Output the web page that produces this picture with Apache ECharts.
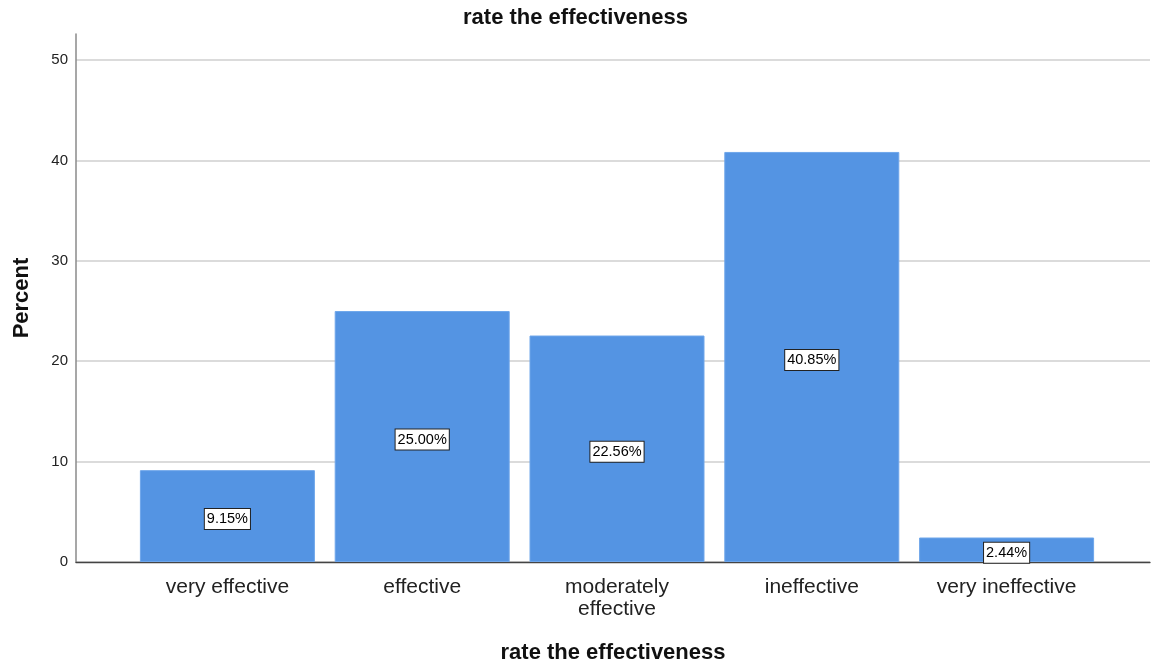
<!DOCTYPE html>
<html>
<head>
<meta charset="utf-8">
<script src="https://cdn.jsdelivr.net/npm/echarts@6/dist/echarts.min.js"></script>
<style>
  html, body { margin: 0; padding: 0; background: #fff; }
  #chart { width: 1151px; height: 664px; }
</style>
</head>
<body>
<div id="chart"></div>
<script>
// Response categories and percentages
const categories = ['very effective', 'effective', 'moderately\neffective', 'ineffective', 'very ineffective'];
const percents = [9.15, 25.00, 22.56, 40.85, 2.44];
const yTicks = [0, 10, 20, 30, 40, 50];

const Y_MAX = 52.6;
const FONT = 'Liberation Sans, Arial, sans-serif';
const BAR = '#5494e3';

const chart = echarts.init(document.getElementById('chart'), null, { renderer: 'canvas' });

chart.setOption({
  backgroundColor: '#ffffff',
  animation: false,
  title: {
    text: 'rate the effectiveness',
    left: 'center',
    top: 2,
    textStyle: { fontFamily: FONT, fontSize: 22, fontWeight: 'bold', color: '#111' }
  },
  grid: [
    // frame: axes and gridlines
    { left: 76, right: 1, top: 34, bottom: 102, outerBoundsMode: 'none', containLabel: false },
    // bars
    { left: 130, width: 974, top: 34, bottom: 102, outerBoundsMode: 'none', containLabel: false }
  ],
  xAxis: [
    {
      gridIndex: 0, type: 'value', min: 0, max: 1,
      name: 'rate the effectiveness', nameLocation: 'middle', nameGap: 80,
      nameTextStyle: { fontFamily: FONT, fontSize: 22, fontWeight: 'bold', color: '#111' },
      axisLine: { show: true, lineStyle: { color: '#444', width: 1.3 } },
      axisTick: { show: false }, axisLabel: { show: false }, splitLine: { show: false }
    },
    {
      gridIndex: 1, type: 'category', data: categories,
      axisLine: { show: false }, axisTick: { show: false },
      axisLabel: {
        margin: 14, fontFamily: FONT, fontSize: 21, color: '#222', lineHeight: 22,
        interval: 0
      }
    }
  ],
  yAxis: [
    {
      gridIndex: 0, type: 'value', min: 0, max: Y_MAX, interval: 10,
      name: 'Percent', nameLocation: 'middle', nameGap: 43,
      nameTextStyle: { fontFamily: FONT, fontSize: 22, fontWeight: 'bold', color: '#111' },
      axisLine: { show: true, lineStyle: { color: '#8a8a8a', width: 1.5 } },
      axisTick: { show: false },
      axisLabel: {
        margin: 8, fontFamily: FONT, fontSize: 15, color: '#222', showMaxLabel: false,
        padding: [5, 0, 0, 0],
        formatter: v => (yTicks.includes(v) ? String(v) : '')
      },
      splitLine: { show: true, showMaxLine: false, lineStyle: { color: '#cfcfcf', width: 1.5 } }
    },
    {
      gridIndex: 1, type: 'value', min: 0, max: Y_MAX, show: false,
      splitLine: { show: false }
    }
  ],
  series: [
    {
      type: 'bar',
      xAxisIndex: 1, yAxisIndex: 1,
      data: percents,
      barWidth: 175,
      itemStyle: { color: BAR, borderColor: '#6ea6ea', borderWidth: 1 },
      label: {
        show: true,
        position: 'inside',
        offset: [0, 3],
        formatter: p => p.value.toFixed(2) + '%',
        fontFamily: FONT, fontSize: 14.5, color: '#000',
        backgroundColor: '#fff', borderColor: '#222', borderWidth: 1,
        padding: [3, 2, 2, 2]
      }
    }
  ]
});
</script>
</body>
</html>
